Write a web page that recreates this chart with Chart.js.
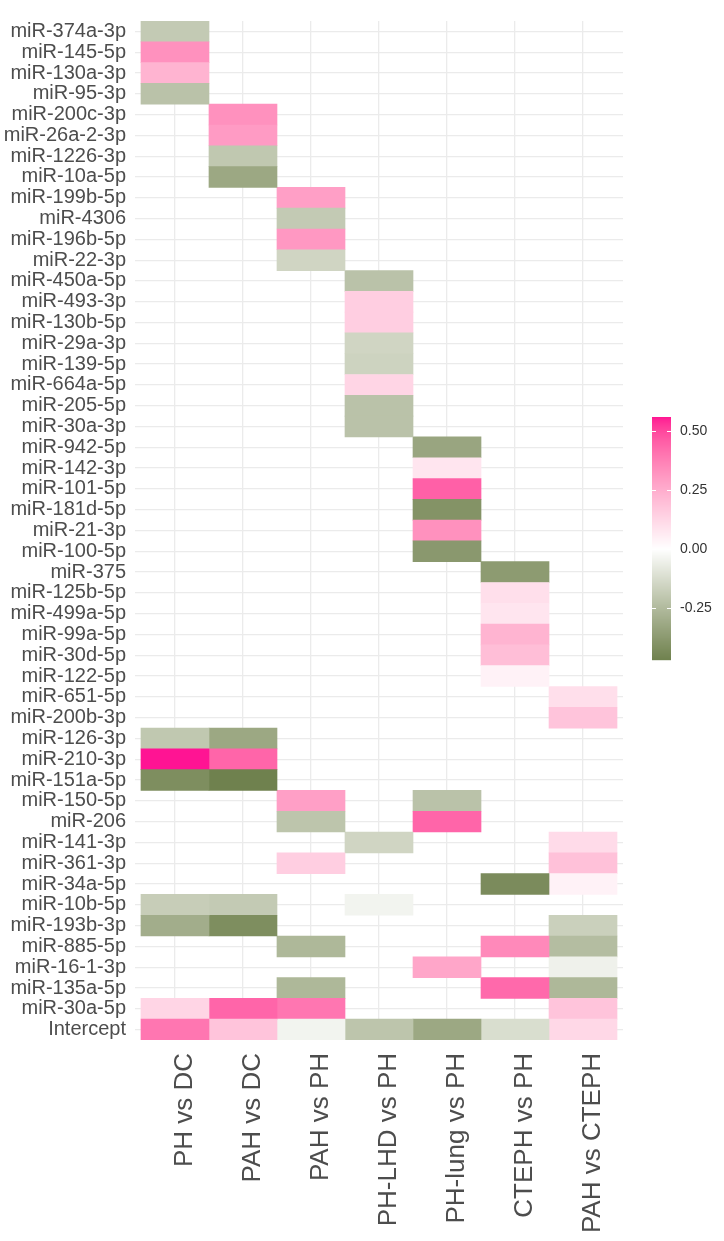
<!DOCTYPE html>
<html>
<head>
<meta charset="utf-8">
<script src="https://cdn.jsdelivr.net/npm/chart.js@4.4.0/dist/chart.umd.min.js"></script>
<style>
  html, body { margin: 0; padding: 0; background: #fff; }
  #wrap { width: 724px; height: 1241px; }
</style>
</head>
<body>
<div id="wrap"><canvas id="heat"></canvas></div>
<script>
const n = null;

const mirnas = [
  'miR-374a-3p', 'miR-145-5p', 'miR-130a-3p', 'miR-95-3p', 'miR-200c-3p', 'miR-26a-2-3p', 'miR-1226-3p',
  'miR-10a-5p', 'miR-199b-5p', 'miR-4306', 'miR-196b-5p', 'miR-22-3p', 'miR-450a-5p', 'miR-493-3p',
  'miR-130b-5p', 'miR-29a-3p', 'miR-139-5p', 'miR-664a-5p', 'miR-205-5p', 'miR-30a-3p', 'miR-942-5p',
  'miR-142-3p', 'miR-101-5p', 'miR-181d-5p', 'miR-21-3p', 'miR-100-5p', 'miR-375', 'miR-125b-5p',
  'miR-499a-5p', 'miR-99a-5p', 'miR-30d-5p', 'miR-122-5p', 'miR-651-5p', 'miR-200b-3p', 'miR-126-3p',
  'miR-210-3p', 'miR-151a-5p', 'miR-150-5p', 'miR-206', 'miR-141-3p', 'miR-361-3p', 'miR-34a-5p',
  'miR-10b-5p', 'miR-193b-3p', 'miR-885-5p', 'miR-16-1-3p', 'miR-135a-5p', 'miR-30a-5p', 'Intercept'
];

const comparisons = ['PH vs DC', 'PAH vs DC', 'PAH vs PH', 'PH-LHD vs PH', 'PH-lung vs PH', 'CTEPH vs PH', 'PAH vs CTEPH'];

// coefficients, one value per miRNA row (null = not selected)
const phVsDc = [
  -0.19, 0.33, 0.23, -0.22, n, n, n,
  n, n, n, n, n, n, n,
  n, n, n, n, n, n, n,
  n, n, n, n, n, n, n,
  n, n, n, n, n, n, -0.20,
  0.56, -0.42, n, n, n, n, n,
  -0.18, -0.30, n, n, n, 0.13, 0.40
];
const pahVsDc = [
  n, n, n, n, 0.33, 0.30, -0.20,
  -0.32, n, n, n, n, n, n,
  n, n, n, n, n, n, n,
  n, n, n, n, n, n, n,
  n, n, n, n, n, n, -0.32,
  0.44, -0.47, n, n, n, n, n,
  -0.19, -0.42, n, n, n, 0.44, 0.18
];
const pahVsPh = [
  n, n, n, n, n, n, n,
  n, 0.29, -0.19, 0.31, -0.15, n, n,
  n, n, n, n, n, n, n,
  n, n, n, n, n, n, n,
  n, n, n, n, n, n, n,
  n, n, 0.29, -0.21, n, 0.15, n,
  n, n, -0.26, n, -0.26, 0.40, -0.04
];
const phLhdVsPh = [
  n, n, n, n, n, n, n,
  n, n, n, n, n, -0.22, 0.15,
  0.15, -0.15, -0.16, 0.13, -0.22, -0.22, n,
  n, n, n, n, n, n, n,
  n, n, n, n, n, n, n,
  n, n, n, n, -0.15, n, n,
  -0.04, n, n, n, n, n, -0.21
];
const phLungVsPh = [
  n, n, n, n, n, n, n,
  n, n, n, n, n, n, n,
  n, n, n, n, n, n, -0.33,
  0.08, 0.45, -0.40, 0.33, -0.38, n, n,
  n, n, n, n, n, n, n,
  n, n, -0.22, 0.44, n, n, n,
  n, n, n, 0.27, n, n, -0.32
];
const ctephVsPh = [
  n, n, n, n, n, n, n,
  n, n, n, n, n, n, n,
  n, n, n, n, n, n, n,
  n, n, n, n, n, -0.37, 0.10,
  0.08, 0.23, 0.20, 0.04, n, n, n,
  n, n, n, n, n, n, -0.43,
  n, n, 0.35, n, 0.43, n, -0.12
];
const pahVsCteph = [
  n, n, n, n, n, n, n,
  n, n, n, n, n, n, n,
  n, n, n, n, n, n, n,
  n, n, n, n, n, n, n,
  n, n, n, n, 0.10, 0.18, n,
  n, n, n, n, 0.11, 0.19, 0.04,
  n, -0.17, -0.24, -0.05, -0.26, 0.18, 0.12
];

const columns = [phVsDc, pahVsDc, pahVsPh, phLhdVsPh, phLungVsPh, ctephVsPh, pahVsCteph];

const legendTicks = [0.5, 0.25, 0, -0.25];
const legendLabels = ['0.50', '0.25', '0.00', '-0.25'];

// diverging scale low / mid / high, mixed in Lab like ggplot's gradient2
const lowCol = '#556B2F', midCol = '#FFFFFF', highCol = '#FF1493';

function hexRgb(h) {
  return [1, 3, 5].map(i => parseInt(h.slice(i, i + 2), 16));
}
function toLab(rgb) {
  const [r, g, b] = rgb.map(c => {
    c /= 255;
    return c <= 0.04045 ? c / 12.92 : Math.pow((c + 0.055) / 1.055, 2.4);
  });
  const x = (0.4124 * r + 0.3576 * g + 0.1805 * b) / 0.95047;
  const y = 0.2126 * r + 0.7152 * g + 0.0722 * b;
  const z = (0.0193 * r + 0.1192 * g + 0.9505 * b) / 1.08883;
  const f = t => t > 0.008856 ? Math.cbrt(t) : 7.787 * t + 16 / 116;
  const fx = f(x), fy = f(y), fz = f(z);
  return [116 * fy - 16, 500 * (fx - fy), 200 * (fy - fz)];
}
function fromLab(lab) {
  const fy = (lab[0] + 16) / 116, fx = fy + lab[1] / 500, fz = fy - lab[2] / 200;
  const inv = t => t * t * t > 0.008856 ? t * t * t : (t - 16 / 116) / 7.787;
  const x = inv(fx) * 0.95047, y = inv(fy), z = inv(fz) * 1.08883;
  const lin = [
    3.2406 * x - 1.5372 * y - 0.4986 * z,
    -0.9689 * x + 1.8758 * y + 0.0415 * z,
    0.0557 * x - 0.2040 * y + 1.0570 * z
  ];
  const out = lin.map(c => {
    c = c <= 0.0031308 ? 12.92 * c : 1.055 * Math.pow(c, 1 / 2.4) - 0.055;
    return Math.round(Math.min(1, Math.max(0, c)) * 255);
  });
  return 'rgb(' + out.join(',') + ')';
}
const labLow = toLab(hexRgb(lowCol)), labMid = toLab(hexRgb(midCol)), labHigh = toLab(hexRgb(highCol));

const allValues = columns.flat().filter(v => v !== null);
const vMax = Math.max(...allValues), vMin = Math.min(...allValues);
const maxAbs = Math.max(Math.abs(vMax), Math.abs(vMin));

function fillFor(v) {
  const t = Math.min(1, Math.abs(v) / maxAbs);
  const end = v >= 0 ? labHigh : labLow;
  return fromLab(labMid.map((m, i) => m + (end[i] - m) * t));
}

const textGrey = '#4d4d4d';
const gridGrey = '#ebebeb';

const colorbar = {
  id: 'colorbar',
  afterDraw(chart) {
    const ctx = chart.ctx;
    const left = 652, width = 19, top = 417, height = 243;
    const yOf = v => top + (vMax - v) / (vMax - vMin) * height;
    ctx.save();
    for (let y = 0; y < height; y++) {
      const v = vMax - (y + 0.5) / height * (vMax - vMin);
      ctx.fillStyle = fillFor(v);
      ctx.fillRect(left, top + y, width, 1.2);
    }
    ctx.strokeStyle = '#ffffff';
    ctx.lineWidth = 1;
    ctx.fillStyle = '#333333';
    ctx.font = '14px "Liberation Sans", Arial, sans-serif';
    ctx.textAlign = 'left';
    ctx.textBaseline = 'middle';
    legendTicks.forEach((t, i) => {
      const y = Math.round(yOf(t)) + 0.5;
      ctx.beginPath();
      ctx.moveTo(left, y); ctx.lineTo(left + 4, y);
      ctx.moveTo(left + width - 4, y); ctx.lineTo(left + width, y);
      ctx.stroke();
      ctx.fillText(legendLabels[i], 680, y);
    });
    ctx.restore();
  }
};

const ctx = document.getElementById('heat').getContext('2d');
new Chart(ctx, {
  type: 'bar',
  data: {
    labels: mirnas,
    datasets: comparisons.map((name, c) => ({
      label: name,
      data: columns[c].map(v => v === null ? null : [c + 0.5, c + 1.5]),
      backgroundColor: columns[c].map(v => v === null ? 'rgba(0,0,0,0)' : fillFor(v)),
      borderWidth: 0,
      grouped: false,
      barPercentage: 1,
      categoryPercentage: 1
    }))
  },
  options: {
    indexAxis: 'y',
    responsive: true,
    maintainAspectRatio: false,
    animation: false,
    layout: { padding: { top: 12, right: 101, left: 0, bottom: 0 } },
    plugins: {
      legend: { display: false },
      tooltip: { enabled: false }
    },
    scales: {
      x: {
        type: 'linear',
        min: 0.412,
        max: 7.588,
        afterBuildTicks: scale => { scale.ticks = comparisons.map((_, i) => ({ value: i + 1 })); },
        afterFit: scale => { scale.height = 201; },
        border: { display: false },
        grid: { color: gridGrey, lineWidth: 1.3, drawTicks: false },
        ticks: {
          autoSkip: false,
          minRotation: 90,
          maxRotation: 90,
          padding: 13,
          labelOffset: 10,
          color: textGrey,
          font: { family: '"Liberation Sans", Arial, sans-serif', size: 26 },
          callback: value => comparisons[value - 1]
        }
      },
      y: {
        afterFit: scale => { scale.width = 135; },
        border: { display: false },
        grid: { color: gridGrey, lineWidth: 1.3, drawTicks: false, offset: false },
        ticks: {
          autoSkip: false,
          padding: 9,
          color: textGrey,
          font: { family: '"Liberation Sans", Arial, sans-serif', size: 20 }
        }
      }
    }
  },
  plugins: [colorbar]
});
</script>
</body>
</html>
